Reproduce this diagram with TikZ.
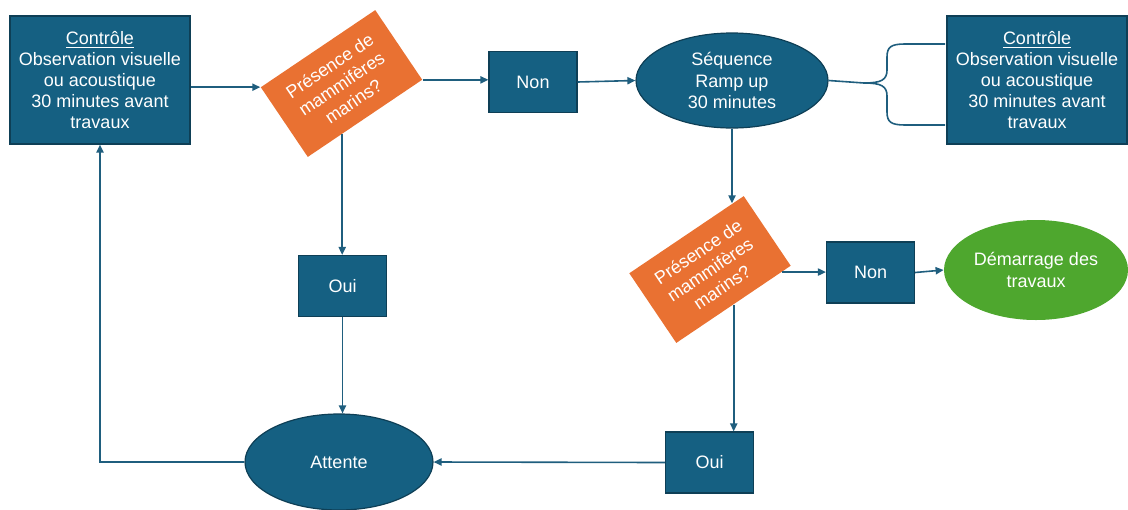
\documentclass[tikz,border=0pt]{standalone}
\usepackage{fontspec}
\setmainfont{Liberation Sans}
\usetikzlibrary{arrows.meta,shapes.geometric,calc}

\definecolor{boxblue}{HTML}{156082}
\definecolor{boxedge}{HTML}{0E3F56}
\definecolor{boxorange}{HTML}{E97132}
\definecolor{boxgreen}{HTML}{4EA72E}
\definecolor{linecol}{HTML}{1F5E7E}

\begin{document}
\begin{tikzpicture}[x=0.5pt, y=-0.5pt,
    every node/.style={font=\fontsize{9}{10.6}\selectfont, text=white, align=center, inner sep=0pt},
    ctrlbox/.style={rectangle, fill=boxblue, draw=boxedge, line width=0.6pt, minimum width=90pt, minimum height=64pt},
    smallbox/.style={rectangle, fill=boxblue, draw=boxedge, line width=0.6pt, minimum width=44pt, minimum height=30.5pt},
    bluell/.style={ellipse, fill=boxblue, draw=boxedge, line width=0.6pt},
    question/.style={rectangle, fill=boxorange, minimum width=69pt, minimum height=42pt, rotate=34},
    conn/.style={draw=linecol, line width=0.8pt, -{Triangle[length=4pt,width=3.6pt]}},
    wire/.style={draw=linecol, line width=0.8pt}]
    \useasboundingbox (0,0) rectangle (1128,509);

    % Top row
    \node[ctrlbox] (ctrlA) at (100,80) {\underline{Contrôle}\\Observation visuelle\\ou acoustique\\30 minutes avant\\travaux};
    \node[question] (pres1) at (341.5,83.5) {Présence de\\mammifères\\marins?};
    \node[smallbox] (non1) at (533,82) {Non};
    \node[bluell, minimum width=96pt, minimum height=47.5pt] (seq) at (732,80.5) {Séquence\\Ramp up\\30 minutes};
    \node[ctrlbox] (ctrlB) at (1037,80) {\underline{Contrôle}\\Observation visuelle\\ou acoustique\\30 minutes avant\\travaux};

    % Middle
    \node[smallbox] (oui1) at (342.5,286) {Oui};
    \node[question] (pres2) at (710,269.5) {Présence de\\mammifères\\marins?};
    \node[smallbox] (non2) at (870.5,272.5) {Non};
    \node[ellipse, fill=boxgreen, minimum width=92pt, minimum height=50pt] (demarrage) at (1036,270) {Démarrage des\\travaux};

    % Bottom row
    \node[bluell, minimum width=94pt, minimum height=48pt] (attente) at (339,462) {Attente};
    \node[smallbox] (oui2) at (709.5,462.5) {Oui};

    % Connectors
    \draw[conn] (ctrlA.east |- pres1.north west) -- (pres1.north west);
    \draw[conn] (pres1.south east) -- (pres1.south east -| non1.west);
    \draw[conn] (non1.east) -- (seq.west);
    \coordinate (p1out) at ($(pres1.south east)!0.7!(pres1.south west)$);
    \draw[conn] (p1out) -- (p1out |- oui1.north);
    \draw[conn] (oui1.south) -- (oui1.south |- attente.north);
    \draw[conn] (attente.west) -| (ctrlA.south);

    \coordinate (p2in) at ($(pres2.north east)!0.1!(pres2.north west)$);
    \draw[conn] (seq.south) -- (seq.south |- p2in);
    \coordinate (p2right) at ($(pres2.south east)!0.08!(pres2.south west)$);
    \draw[conn] (p2right) -- (p2right -| non2.west);
    \draw[conn] (non2.east) -- (demarrage.west);
    \coordinate (p2down) at ($(pres2.south east)!0.5!(pres2.south west)$);
    \draw[conn] (p2down) -- (p2down |- oui2.north);
    \draw[conn] (oui2.west) -- (attente.east);

    % Brace towards the second control
    \coordinate (tip) at (864,83);
    \coordinate (armT) at (945,44);
    \coordinate (armB) at (945,125);
    \draw[wire] (seq.east) -- (tip);
    \draw[wire] (tip) .. controls (881,83) and (887,80) .. (887,70) -- (887,57)
        .. controls (887,47) and (891,44) .. (905,44) -- (armT);
    \draw[wire] (tip) .. controls (881,83) and (887,86) .. (887,96) -- (887,112)
        .. controls (887,122) and (891,125) .. (905,125) -- (armB);
\end{tikzpicture}
\end{document}
